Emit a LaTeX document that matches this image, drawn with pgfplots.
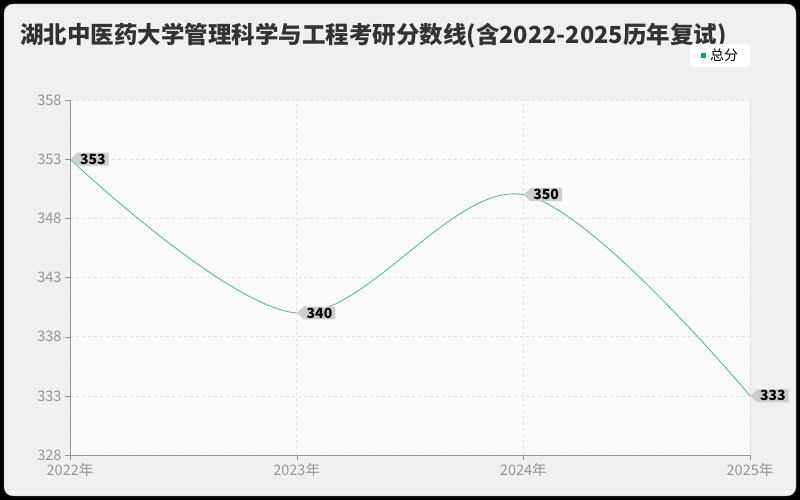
\documentclass[border=0pt]{standalone}
\usepackage{fontspec}
\setmainfont{Noto Sans CJK SC}
\usepackage{pgfplots}
\pgfplotsset{compat=1.18}
\usetikzlibrary{shapes.symbols,patterns}
\definecolor{bgc}{RGB}{240,240,240}
\definecolor{linec}{RGB}{60,190,150}
\definecolor{legc}{RGB}{0,170,120}
\definecolor{tickc}{RGB}{150,150,150}
\definecolor{gridc}{RGB}{225,225,225}
\definecolor{labc}{RGB}{205,205,205}

\begin{document}
\begin{tikzpicture}
\fill[black] (0pt,0pt) rectangle (800pt,500pt);
\fill[bgc, draw=gray!70, rounded corners=9pt] (4pt,4pt) rectangle (796pt,496pt);
\node[anchor=west, font=\fontsize{23.5}{25}\selectfont\bfseries, text=black!80, inner sep=0pt] at (20pt,464pt) {湖北中医药大学管理科学与工程考研分数线(含2022-2025历年复试)};
% legend
\fill[white, rounded corners=4pt] (690pt,433pt) rectangle (750pt,456pt);
\fill[legc] (700.5pt,442pt) rectangle (705.5pt,447pt);
\node[anchor=west, font=\fontsize{14}{15}\selectfont, inner sep=0pt] at (710pt,444.5pt) {总分};
\begin{axis}[
  at={(70pt,45pt)}, anchor=south west,
  scale only axis, width=680pt, height=355pt,
  xmin=0, xmax=3, ymin=328, ymax=358,
  xtick={0,1,2,3}, xticklabels={2022年,2023年,2024年,2025年},
  ytick={328,333,338,343,348,353,358},
  /pgf/number format/assume math mode=true,
  tick label style={font=\fontsize{14.5}{15}\selectfont, text=tickc},
  axis background/.style={fill=white, postaction={pattern=north east lines, pattern color=black!5}},
  axis line style={draw=tickc},
  axis x line*=bottom, axis y line*=left,
  tick style={draw=tickc},
  tick align=outside,
  major tick length=5pt,
  grid=major,
  major grid style={dashed, draw=gridc},
  clip=false,
  nodes near coords,
  point meta=explicit symbolic,
  every node near coord/.append style={shape=signal, signal to=west, signal pointer angle=90, fill=labc,
    anchor=west, font=\fontsize{14}{15}\selectfont\bfseries, text=black, inner xsep=3pt, inner ysep=1.2pt},
]
\draw[gridc] (axis cs:3,328) -- (axis cs:3,358);
\addplot[linec, line width=0.8pt, smooth, tension=0.55, mark=none] table[meta=lab] {
x y lab
0 353 353
1 340 340
2 350 350
3 333 333
};
\end{axis}
\end{tikzpicture}
\end{document}
